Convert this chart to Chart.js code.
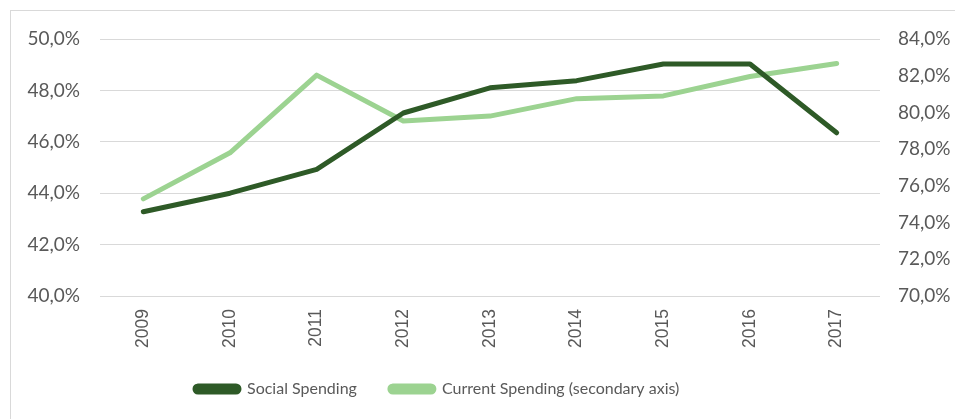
<!DOCTYPE html>
<html><head><meta charset="utf-8">
<script src="https://cdn.jsdelivr.net/npm/chart.js@4/dist/chart.umd.min.js"></script>
<style>
html,body{margin:0;padding:0;background:#fff;overflow:hidden;width:955px;height:419px}
#frame{position:absolute;left:10px;top:10px;width:1000px;height:500px;border:1px solid #d9d9d9;box-sizing:border-box}
#wrap{position:absolute;left:0;top:0;width:955px;height:419px}
</style></head><body>
<div id="frame"></div>
<div id="wrap"><canvas id="c"></canvas></div>
<script>
const years = ['2009','2010','2011','2012','2013','2014','2015','2016','2017'];
const socialSpending = [43.28, 44.0, 44.93, 47.12, 48.1, 48.38, 49.03, 49.03, 46.35];
const currentSpending = [75.29, 77.8, 82.03, 79.53, 79.8, 80.75, 80.9, 81.96, 82.67];
const seriesNames = ['Social Spending', 'Current Spending (secondary axis)'];

const fmt = v => v.toFixed(1).replace('.', ',') + '%';

const legendShift = {
  id: 'legendShift',
  afterLayout(chart) {
    const lg = chart.legend;
    if (!lg || !lg.lineWidths) return;
    const pad = lg.options.labels.padding;
    const x0 = (lg.left + pad + lg.right - lg.lineWidths[0]) / 2;
    const delta = 195 - x0;
    lg.left += delta; lg.right += delta;
  }
};

new Chart(document.getElementById('c'), {
  type: 'line',
  data: {
    labels: years,
    datasets: [
      { label: seriesNames[0], data: socialSpending, yAxisID: 'y', borderColor: '#2e5a27', backgroundColor: '#2e5a27',
        borderWidth: 5, pointRadius: 0, tension: 0, borderCapStyle: 'round', borderJoinStyle: 'round' },
      { label: seriesNames[1], data: currentSpending, yAxisID: 'y1', borderColor: '#9cd391', backgroundColor: '#9cd391',
        borderWidth: 5, pointRadius: 0, tension: 0, borderCapStyle: 'round', borderJoinStyle: 'round' }
    ]
  },
  options: {
    responsive: true, maintainAspectRatio: false, animation: false,
    layout: { padding: { top: 39, left: 0, right: 0, bottom: 12 } },
    plugins: {
      tooltip: { enabled: false },
      legend: {
        position: 'bottom',
        labels: { boxWidth: 44, boxHeight: 6, useBorderRadius: true, borderRadius: 3, padding: 33,
          color: '#595959', font: { family: 'Lato', size: 16 } }
      }
    },
    scales: {
      x: {
        offset: true,
        grid: { display: false, drawTicks: false },
        border: { display: false },
        ticks: { minRotation: 90, maxRotation: 90, padding: 13, color: '#595959', font: { family: 'Liberation Sans', size: 17.5 } },
        afterFit(s) { s.height = 52; }
      },
      y: {
        position: 'left', min: 40, max: 50,
        grid: { color: '#d9d9d9', lineWidth: 1, drawTicks: false },
        border: { display: false },
        ticks: { stepSize: 2, padding: 20, color: '#595959', font: { family: 'Lato', size: 19 }, callback: v => fmt(v) },
        afterFit(s) { s.width = 100; }
      },
      y1: {
        position: 'right', min: 70, max: 84,
        grid: { display: false, drawTicks: false },
        border: { display: false },
        ticks: { stepSize: 2, padding: 18, color: '#595959', font: { family: 'Lato', size: 19 }, callback: v => fmt(v) },
        afterFit(s) { s.width = 75; }
      }
    }
  },
  plugins: [legendShift]
});
</script>
</body></html>
